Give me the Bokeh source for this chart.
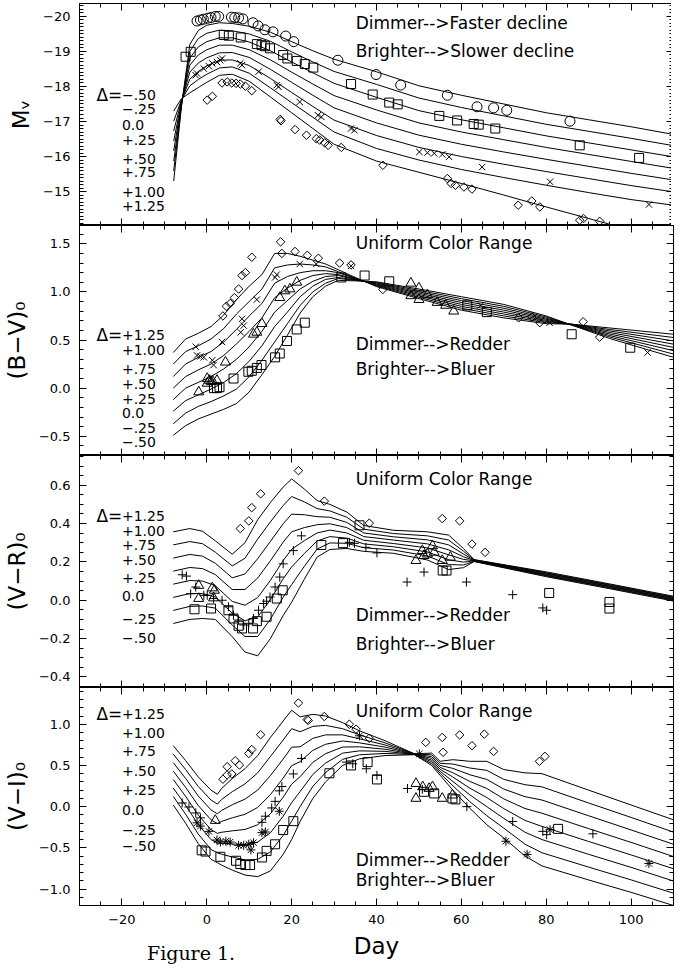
from bokeh.plotting import figure
from bokeh.models import Range1d, LinearAxis, FixedTicker, CustomJSTickFormatter, Label
from bokeh.layouts import column
from bokeh.embed import file_html
from bokeh.resources import INLINE
from bokeh.core.properties import value
import numpy as np

FONT = "DejaVu Sans"

# ---------------- Panel 1 : M_V templates ----------------
MV_DAYS = [-7.8, -6, -4, -2, 0, 3, 6, 10, 15, 20, 25, 30, 40, 50, 60, 70, 80, 90, 100, 110]
MV_LABELS = ["\u2212.50", "\u2212.25", "0.0", "+.25", "+.50", "+.75", "+1.00", "+1.25"]
MV_M050 = [-15.30, -17.40, -19.20, -19.60, -19.75, -19.82, -19.80, -19.72, -19.55, -19.28, -19.02, -18.78, -18.42, -18.02, -17.75, -17.50, -17.25, -17.05, -16.85, -16.63]
MV_M025 = [-15.59, -17.44, -19.00, -19.37, -19.52, -19.61, -19.59, -19.50, -19.29, -18.99, -18.70, -18.43, -18.06, -17.67, -17.40, -17.16, -16.92, -16.72, -16.52, -16.31]
MV_P000 = [-15.87, -17.47, -18.81, -19.13, -19.28, -19.39, -19.39, -19.27, -19.02, -18.70, -18.39, -18.09, -17.69, -17.31, -17.05, -16.82, -16.59, -16.39, -16.19, -15.99]
MV_P025 = [-16.16, -17.51, -18.61, -18.90, -19.05, -19.18, -19.18, -19.05, -18.76, -18.41, -18.07, -17.74, -17.33, -16.96, -16.70, -16.48, -16.26, -16.06, -15.86, -15.66]
MV_P050 = [-16.44, -17.54, -18.41, -18.67, -18.82, -18.96, -18.97, -18.83, -18.49, -18.12, -17.75, -17.39, -16.96, -16.61, -16.35, -16.13, -15.92, -15.72, -15.52, -15.33]
MV_P075 = [-16.73, -17.58, -18.21, -18.43, -18.59, -18.75, -18.76, -18.60, -18.23, -17.83, -17.43, -17.04, -16.60, -16.26, -16.00, -15.78, -15.57, -15.37, -15.17, -14.99]
MV_P100 = [-17.01, -17.61, -18.02, -18.20, -18.35, -18.53, -18.56, -18.38, -17.96, -17.54, -17.12, -16.70, -16.23, -15.90, -15.63, -15.40, -15.18, -14.97, -14.77, -14.61]
MV_P125 = [-17.30, -17.65, -17.82, -17.97, -18.12, -18.32, -18.35, -18.15, -17.70, -17.25, -16.80, -16.35, -15.87, -15.55, -15.23, -14.90, -14.56, -14.23, -13.90, -13.60]

MV_CIRC = [(-2.3, -19.87), (-1.5, -19.9), (-0.8, -19.92), (0.2, -19.95), (1.0, -19.97), (2.0, -20.0), (2.8, -20.0),
           (5.8, -19.98), (6.6, -19.97), (7.5, -19.96), (8.5, -19.93), (10.9, -19.82), (12.1, -19.73), (13.7, -19.62),
           (15.6, -19.56), (18.6, -19.44), (20.5, -19.28), (30.9, -18.75), (39.9, -18.34), (45.7, -18.04),
           (56.7, -17.75), (63.7, -17.42), (67.6, -17.39), (70.7, -17.32), (85.6, -17.01)]
MV_SQR = [(-5.0, -18.85), (-3.8, -18.99), (4.0, -19.47), (5.2, -19.45), (8.0, -19.4), (11.8, -19.21), (12.9, -19.18),
          (13.7, -19.15), (14.9, -19.09), (18.0, -18.9), (19.0, -18.8), (21.2, -18.73), (23.1, -18.64), (25.1, -18.54),
          (34.0, -18.07), (39.1, -17.77), (43.0, -17.54), (45.0, -17.49), (54.8, -17.16), (59.0, -17.03),
          (62.9, -16.93), (64.1, -16.91), (68.0, -16.8), (87.9, -16.32), (101.9, -15.96)]
MV_X = [(-2.6, -18.32), (-2.3, -18.37), (-0.7, -18.51), (0.5, -18.58), (1.3, -18.66), (2.4, -18.7), (3.2, -18.75),
        (3.6, -18.8), (7.9, -18.66), (8.3, -18.61), (12.2, -18.42), (16.5, -18.04), (16.9, -17.99), (21.9, -17.56),
        (26.2, -17.18), (27.0, -17.13), (34.0, -16.8), (34.8, -16.75), (50.1, -16.13), (52.0, -16.11),
        (53.6, -16.09), (55.5, -16.06), (57.1, -15.99), (64.9, -15.7), (80.9, -15.28), (104.2, -14.63)]
MV_DIAM = [(0.1, -17.61), (1.3, -17.72), (3.6, -18.1), (4.8, -18.13), (5.9, -18.1), (6.9, -18.09), (7.9, -18.07),
           (9.1, -18.01), (10.6, -17.88), (17.3, -17.06), (17.5, -17.02), (20.8, -16.77), (23.5, -16.61),
           (25.8, -16.51), (26.6, -16.47), (27.8, -16.39), (28.6, -16.32), (31.7, -16.26), (41.5, -15.75),
           (56.7, -15.37), (57.6, -15.23), (58.6, -15.18), (60.6, -15.13), (62.5, -15.07), (73.4, -14.61),
           (76.6, -14.73), (78.5, -14.56), (87.9, -14.18), (88.8, -14.23), (92.6, -14.15)]

# ---------------- Panel 2 : (B-V)0 templates (rows = days; columns = +1.25 ... -.50) ----------------
BV_DAYS = [-7.9, -5, -2, 1, 4, 7, 10, 13, 16, 19, 22, 25, 28, 31, 35, 40, 50, 60, 70, 80, 86, 95, 110]
BV_LABELS = ["+1.25", "+1.00", "+.75", "+.50", "+.25", "0.0", "\u2212.25", "\u2212.50"]
BV_ROWS = [
    [0.37, 0.25, 0.12, 0.00, -0.12, -0.24, -0.37, -0.49],
    [0.51, 0.38, 0.25, 0.12, 0.00, -0.13, -0.26, -0.39],
    [0.57, 0.44, 0.32, 0.19, 0.06, -0.07, -0.19, -0.32],
    [0.64, 0.51, 0.38, 0.25, 0.12, -0.01, -0.14, -0.27],
    [0.76, 0.62, 0.48, 0.34, 0.20, 0.06, -0.08, -0.22],
    [0.92, 0.77, 0.61, 0.46, 0.30, 0.15, -0.01, -0.16],
    [1.06, 0.90, 0.75, 0.59, 0.43, 0.28, 0.12, -0.04],
    [1.18, 1.03, 0.88, 0.73, 0.59, 0.44, 0.29, 0.14],
    [1.40, 1.25, 1.09, 0.94, 0.79, 0.64, 0.48, 0.33],
    [1.40, 1.28, 1.16, 1.04, 0.91, 0.79, 0.67, 0.55],
    [1.37, 1.29, 1.20, 1.12, 1.03, 0.95, 0.86, 0.78],
    [1.33, 1.28, 1.22, 1.17, 1.11, 1.06, 1.00, 0.95],
    [1.29, 1.26, 1.22, 1.19, 1.16, 1.13, 1.09, 1.06],
    [1.23, 1.21, 1.20, 1.18, 1.17, 1.15, 1.14, 1.12],
    [1.15, 1.145, 1.14, 1.135, 1.13, 1.125, 1.12, 1.115],
    [1.055, 1.062, 1.069, 1.076, 1.084, 1.091, 1.098, 1.105],
    [0.930, 0.944, 0.959, 0.973, 0.987, 1.001, 1.016, 1.030],
    [0.81, 0.83, 0.85, 0.87, 0.89, 0.91, 0.93, 0.95],
    [0.73, 0.75, 0.77, 0.79, 0.81, 0.83, 0.85, 0.87],
    [0.670, 0.681, 0.693, 0.704, 0.716, 0.727, 0.739, 0.750],
    [0.665, 0.664, 0.662, 0.661, 0.659, 0.658, 0.656, 0.655],
    [0.625, 0.609, 0.594, 0.578, 0.562, 0.546, 0.531, 0.515],
    [0.560, 0.526, 0.491, 0.457, 0.423, 0.389, 0.354, 0.320],
]
BV_DIAM = [(3.8, 0.75), (4.6, 0.85), (5.5, 0.88), (6.5, 0.94), (7.5, 1.03), (8.3, 1.17), (9.1, 1.2), (10.6, 1.36),
           (17.4, 1.52), (17.7, 1.40), (20.8, 1.42), (23.7, 1.38), (26.3, 1.35), (31.3, 1.30), (34.0, 1.28),
           (41.5, 1.025), (73.5, 0.73), (76.6, 0.74), (78.5, 0.68), (88.7, 0.69), (92.6, 0.53)]
BV_X = [(-2.6, 0.43), (-2.3, 0.34), (-1.5, 0.33), (-0.7, 0.32), (1.3, 0.29), (1.6, 0.24), (3.6, 0.48), (8.3, 0.72),
        (8.7, 0.65), (8.0, 0.58), (11.8, 0.92), (16.1, 1.15), (16.5, 1.18), (21.9, 1.29), (25.8, 1.29),
        (34.0, 1.27), (64.6, 0.86), (80.8, 0.68), (103.9, 0.37)]
BV_TRI = [(-1.9, -0.04), (0.1, 0.10), (0.6, 0.08), (1.0, 0.07), (1.4, 0.07), (0.1, 0.05), (2.4, 0.08), (4.4, 0.27),
          (11.0, 0.56), (11.8, 0.58), (13.0, 0.67), (17.2, 0.94), (18.4, 1.01), (19.6, 1.03), (21.2, 1.10),
          (48.1, 1.09), (48.1, 0.96), (50.0, 1.04), (50.0, 0.92), (52.0, 0.97), (54.3, 0.89), (56.3, 0.86),
          (58.2, 0.80)]
BV_SQR = [(1.7, 0.0), (2.4, 0.0), (3.0, 0.01), (6.3, 0.10), (9.8, 0.17), (10.6, 0.18), (11.8, 0.21), (12.9, 0.24),
          (16.1, 0.32), (17.2, 0.36), (18.9, 0.49), (21.2, 0.61), (23.1, 0.68), (31.7, 1.15), (37.2, 1.17),
          (43.0, 1.11), (61.4, 0.86), (66.0, 0.79), (86.0, 0.56), (99.8, 0.42)]

# ---------------- Panel 3 : (V-R)0 templates ----------------
VR_DAYS = [-7.9, -4, -1, 2, 6, 9, 12, 15, 18, 20, 23, 26, 29, 33, 37, 44, 52, 57, 60.5, 63, 80, 95, 110]
VR_LABELS = ["+1.25", "+1.00", "+.75", "+.50", "+.25", "0.0", "\u2212.25", "\u2212.50"]
VR_ROWS = [
    [0.357, 0.289, 0.220, 0.152, 0.084, 0.015, -0.053, -0.121],
    [0.374, 0.306, 0.239, 0.171, 0.103, 0.035, -0.032, -0.100],
    [0.360, 0.295, 0.230, 0.165, 0.100, 0.035, -0.030, -0.095],
    [0.310, 0.251, 0.193, 0.134, 0.076, 0.017, -0.041, -0.100],
    [0.240, 0.179, 0.117, 0.056, -0.006, -0.067, -0.129, -0.190],
    [0.300, 0.219, 0.137, 0.056, -0.026, -0.107, -0.189, -0.270],
    [0.420, 0.319, 0.217, 0.116, 0.014, -0.087, -0.189, -0.290],
    [0.510, 0.409, 0.307, 0.206, 0.104, 0.003, -0.099, -0.200],
    [0.590, 0.494, 0.399, 0.303, 0.207, 0.112, 0.016, -0.080],
    [0.633, 0.541, 0.449, 0.357, 0.266, 0.174, 0.082, -0.010],
    [0.580, 0.513, 0.446, 0.379, 0.311, 0.244, 0.177, 0.110],
    [0.520, 0.478, 0.436, 0.394, 0.351, 0.309, 0.267, 0.225],
    [0.500, 0.466, 0.433, 0.399, 0.366, 0.332, 0.299, 0.265],
    [0.460, 0.433, 0.406, 0.379, 0.351, 0.324, 0.297, 0.270],
    [0.390, 0.371, 0.351, 0.332, 0.313, 0.294, 0.274, 0.255],
    [0.365, 0.348, 0.331, 0.314, 0.296, 0.279, 0.262, 0.245],
    [0.357, 0.336, 0.315, 0.294, 0.273, 0.252, 0.231, 0.210],
    [0.340, 0.314, 0.289, 0.263, 0.237, 0.211, 0.186, 0.160],
    [0.270, 0.256, 0.241, 0.227, 0.213, 0.199, 0.184, 0.170],
    [0.212, 0.211, 0.209, 0.208, 0.206, 0.205, 0.203, 0.202],
    [0.148, 0.144, 0.141, 0.137, 0.134, 0.130, 0.127, 0.123],
    [0.085, 0.081, 0.078, 0.074, 0.071, 0.067, 0.064, 0.060],
    [0.021, 0.017, 0.014, 0.010, 0.007, 0.003, 0.000, -0.004],
]
VR_DIAM = [(7.9, 0.374), (9.9, 0.414), (10.6, 0.483), (12.7, 0.555), (21.6, 0.676), (27.7, 0.517), (38.3, 0.402),
           (55.5, 0.426), (59.6, 0.414), (62.5, 0.293), (65.6, 0.25)]
VR_PLUS = [(-5.8, 0.133), (-4.8, 0.126), (-3.8, 0.034), (-2.6, 0.069), (-0.7, 0.026), (0.1, 0.026), (1.6, 0.009),
           (3.6, 0.0), (5.1, -0.034), (6.3, -0.078), (7.5, -0.103), (8.7, -0.129), (9.9, -0.12), (11.0, -0.095),
           (12.2, -0.052), (13.4, -0.017), (14.1, -0.005), (14.9, 0.017), (16.1, 0.069), (17.2, 0.121),
           (18.0, 0.19), (20.4, 0.259), (22.3, 0.336), (33.6, 0.302), (34.8, 0.297), (37.5, 0.276), (40.1, 0.247),
           (47.2, 0.095), (51.2, 0.147), (61.2, 0.095), (72.1, 0.029), (79.2, -0.04), (80.1, -0.052)]
VR_TRI = [(-1.9, 0.077), (-1.9, 0.009), (1.3, 0.064), (1.8, 0.052), (1.6, 0.012), (49.3, 0.207), (50.8, 0.259),
          (51.2, 0.233), (52.0, 0.241), (53.2, 0.284), (53.6, 0.25), (55.5, 0.207), (57.4, 0.224)]
VR_SQR = [(-2.9, -0.047), (1.0, -0.043), (5.1, -0.052), (6.3, -0.095), (7.5, -0.133), (8.3, -0.147), (10.9, -0.147),
          (11.8, -0.109), (14.1, -0.086), (16.5, 0.009), (17.9, 0.052), (27.0, 0.288), (32.1, 0.298), (36.0, 0.391),
          (55.6, 0.155), (56.5, 0.155), (80.7, 0.038), (94.9, -0.009), (94.9, -0.043)]

# ---------------- Panel 4 : (V-I)0 templates ----------------
VI_DAYS = [-7.9, -5, -2, 1, 2.5, 3.5, 6, 9, 12, 15, 18, 20, 22, 25, 28, 32, 36, 42, 49, 53, 55, 58, 62, 66, 70,
           75, 79, 90, 100, 110]
VI_LABELS = ["+1.25", "+1.00", "+.75", "+.50", "+.25", "0.0", "\u2212.25", "\u2212.50"]
VI_ROWS = [
    [0.74, 0.637, 0.534, 0.431, 0.329, 0.226, 0.123, 0.02],
    [0.56, 0.451, 0.343, 0.234, 0.126, 0.017, -0.091, -0.20],
    [0.36, 0.244, 0.129, 0.013, -0.103, -0.219, -0.334, -0.45],
    [0.20, 0.08, -0.04, -0.16, -0.28, -0.40, -0.52, -0.64],
    [0.15, 0.031, -0.087, -0.206, -0.324, -0.443, -0.561, -0.68],
    [0.22, 0.087, -0.046, -0.179, -0.311, -0.444, -0.577, -0.71],
    [0.34, 0.181, 0.023, -0.136, -0.294, -0.453, -0.611, -0.77],
    [0.46, 0.276, 0.091, -0.093, -0.277, -0.461, -0.646, -0.83],
    [0.62, 0.41, 0.20, -0.01, -0.22, -0.43, -0.64, -0.85],
    [0.84, 0.609, 0.377, 0.146, -0.086, -0.317, -0.549, -0.78],
    [1.04, 0.809, 0.577, 0.346, 0.114, -0.117, -0.349, -0.58],
    [1.17, 0.946, 0.721, 0.497, 0.273, 0.049, -0.176, -0.40],
    [1.09, 0.909, 0.727, 0.546, 0.364, 0.183, 0.001, -0.18],
    [1.12, 0.974, 0.829, 0.683, 0.537, 0.391, 0.246, 0.10],
    [1.10, 0.986, 0.871, 0.757, 0.643, 0.529, 0.414, 0.30],
    [1.02, 0.946, 0.871, 0.797, 0.723, 0.649, 0.574, 0.50],
    [0.92, 0.871, 0.823, 0.774, 0.726, 0.677, 0.629, 0.58],
    [0.80, 0.774, 0.749, 0.723, 0.697, 0.671, 0.646, 0.62],
    [0.64, 0.639, 0.637, 0.636, 0.634, 0.633, 0.631, 0.63],
    [0.65, 0.629, 0.607, 0.586, 0.564, 0.543, 0.521, 0.50],
    [0.55, 0.526, 0.501, 0.477, 0.453, 0.429, 0.404, 0.38],
    [0.57, 0.517, 0.464, 0.411, 0.359, 0.306, 0.253, 0.20],
    [0.55, 0.469, 0.387, 0.306, 0.224, 0.143, 0.061, -0.02],
    [0.55, 0.44, 0.33, 0.22, 0.11, 0.00, -0.11, -0.22],
    [0.45, 0.331, 0.213, 0.094, -0.024, -0.143, -0.261, -0.38],
    [0.41, 0.266, 0.121, -0.023, -0.167, -0.311, -0.456, -0.60],
    [0.40, 0.24, 0.08, -0.08, -0.24, -0.40, -0.56, -0.72],
    [0.20, 0.044, -0.111, -0.267, -0.423, -0.579, -0.734, -0.89],
    [0.02, -0.131, -0.283, -0.434, -0.586, -0.737, -0.889, -1.04],
    [-0.16, -0.309, -0.457, -0.606, -0.754, -0.903, -1.051, -1.20],
]
VI_DIAM = [(3.8, 0.333), (4.8, 0.385), (5.9, 0.397), (4.8, 0.485), (6.7, 0.557), (7.7, 0.505), (9.9, 0.645),
           (10.6, 0.693), (12.7, 0.873), (21.6, 1.258), (23.7, 1.058), (23.9, 1.046), (27.7, 1.094), (33.6, 1.0),
           (35.2, 0.94), (38.3, 0.83), (51.6, 0.78), (55.5, 0.84), (55.7, 0.66), (59.6, 0.87), (62.5, 0.74),
           (65.4, 0.88), (67.6, 0.67), (78.4, 0.55), (79.7, 0.61)]
VI_PLUS = [(-5.8, 0.044), (-4.2, -0.004), (-2.6, -0.076), (-1.5, -0.136), (13.0, -0.19), (13.8, -0.116),
           (15.3, -0.016), (16.1, 0.064), (17.1, 0.192), (17.7, 0.244), (20.4, 0.397), (22.3, 0.585), (32.9, 0.54),
           (34.4, 0.52), (37.6, 0.46), (40.1, 0.38), (47.3, 0.22), (50.8, 0.21), (61.3, 0.0), (72.1, -0.18),
           (79.2, -0.3), (80.1, -0.34), (91.0, -0.33)]
VI_AST = [(-2.3, -0.196), (-1.5, -0.236), (0.5, -0.3), (2.4, -0.405), (3.2, -0.43), (4.5, -0.42), (5.5, -0.43),
          (7.5, -0.47), (8.7, -0.47), (9.9, -0.457), (10.4, -0.525), (11.0, -0.437), (13.0, -0.316),
          (13.8, -0.308), (17.1, -0.056), (36.0, 0.86), (50.1, 0.64), (70.5, -0.42), (75.5, -0.58), (80.9, -0.28),
          (104.2, -0.69)]
VI_TRI = [(2.0, -0.168), (49.3, 0.28), (49.3, 0.10), (50.9, 0.24), (52.4, 0.22), (53.2, 0.24), (55.5, 0.10),
          (57.9, 0.14)]
VI_SQR = [(-1.2, -0.53), (-0.3, -0.545), (3.2, -0.609), (6.9, -0.657), (7.9, -0.697), (9.1, -0.709), (10.2, -0.709),
          (13.0, -0.617), (14.1, -0.537), (16.1, -0.457), (18.0, -0.284), (20.4, -0.176), (28.9, 0.405),
          (34.0, 0.50), (37.9, 0.54), (40.1, 0.33), (51.2, 0.18), (53.6, 0.16), (57.9, 0.10), (58.6, 0.088),
          (82.8, -0.27)]

X_MAJOR = [-20, 0, 20, 40, 60, 80, 100]

xr = Range1d(-30, 110)
FW = 594


def fmt(d):
    return CustomJSTickFormatter(code="return tick.toFixed(%d).replace('-', '\u2212');" % d)


def blank():
    return CustomJSTickFormatter(code="return '';")


def style_axis(ax, show):
    ax.major_tick_in = 7
    ax.major_tick_out = 0
    ax.minor_tick_in = 4
    ax.minor_tick_out = 0
    ax.axis_line_color = "black"
    ax.major_tick_line_color = "black"
    ax.minor_tick_line_color = "black"
    if show:
        ax.major_label_text_font = FONT
        ax.major_label_text_font_size = "13px"
        ax.major_label_text_color = "black"
        ax.major_label_standoff = 9
        ax.axis_label_text_font = FONT
        ax.axis_label_text_font_size = "23px"
        ax.axis_label_text_font_style = "normal"
        ax.axis_label_text_color = "black"
        ax.axis_label_standoff = 6
    else:
        ax.major_label_text_color = None
        ax.major_label_text_font_size = "0px"
        ax.major_label_standoff = 0
        ax.axis_label = None


def panel(yr, fh, ymajor, ystep, ydig, ylabel, last=False, top=0):
    p = figure(frame_width=FW, frame_height=fh, x_range=xr, y_range=yr, output_backend="svg",
               toolbar_location=None, x_axis_location=None, y_axis_location=None,
               min_border_left=72, min_border_right=3, min_border_top=top, min_border_bottom=0)
    p.outline_line_color = "black"
    p.outline_line_width = 1
    p.background_fill_color = "white"
    p.xgrid.visible = False
    p.ygrid.visible = False
    lo, hi = min(yr.start, yr.end), max(yr.start, yr.end)
    yminor = list(np.round(np.arange(np.ceil(lo / ystep) * ystep, hi, ystep), 4))
    yt = FixedTicker(ticks=ymajor, minor_ticks=yminor)
    xt = FixedTicker(ticks=X_MAJOR, minor_ticks=list(range(-30, 111, 5)))
    left = LinearAxis(ticker=yt, formatter=fmt(ydig), axis_label=ylabel)
    right = LinearAxis(ticker=yt, formatter=blank())
    above = LinearAxis(ticker=xt, formatter=blank())
    below = LinearAxis(ticker=xt, formatter=fmt(0) if last else blank(), axis_label="Day" if last else None)
    style_axis(left, True)
    style_axis(right, False)
    style_axis(above, False)
    style_axis(below, last)
    p.add_layout(left, "left")
    p.add_layout(right, "right")
    p.add_layout(above, "above")
    p.add_layout(below, "below")
    return p


def curves(p, days, cols):
    p.multi_line(xs=[days] * len(cols), ys=[list(c) for c in cols], line_color="black", line_width=1)


def pts(p, data, marker, size, angle=0.0):
    xs = [d[0] for d in data]
    ys = [d[1] for d in data]
    p.scatter(xs, ys, marker=marker, size=size, angle=angle, fill_color=None, line_color="black", line_width=1)


def texts(p, xs, ys, tx, size="17px"):
    p.text(x=xs, y=ys, text=tx, text_font=value(FONT), text_font_size=size, text_color="black",
           text_baseline="middle", text_align="left")


def delta_block(p, ys, labels):
    texts(p, [-26.0], [ys[0]], ["\u0394="], "17px")
    texts(p, [-20.0] * len(labels), ys, labels, "14px")


# Panel 1
p1 = panel(Range1d(-14.03, -20.37), 222, [-20, -19, -18, -17, -16, -15], 0.1, 0, "M\u1d65", top=3)
curves(p1, MV_DAYS, [MV_M050, MV_M025, MV_P000, MV_P025, MV_P050, MV_P075, MV_P100, MV_P125])
pts(p1, MV_CIRC, "circle", 10)
pts(p1, MV_SQR, "square", 9)
pts(p1, MV_X, "x", 9)
pts(p1, MV_DIAM, "square", 6, np.pi / 4)
texts(p1, [35.1, 35.1], [-19.8, -19.0], ["Dimmer-->Faster decline", "Brighter-->Slower decline"])
delta_block(p1, [-17.77, -17.37, -16.91, -16.46, -15.94, -15.57, -15.0, -14.6], MV_LABELS)

# Panel 2
p2 = panel(Range1d(-0.70, 1.69), 230, [-0.5, 0.0, 0.5, 1.0, 1.5], 0.1, 1, "(B\u2212V)\u2080")
curves(p2, BV_DAYS, list(zip(*BV_ROWS)))
pts(p2, BV_DIAM, "square", 6, np.pi / 4)
pts(p2, BV_X, "x", 9)
pts(p2, BV_TRI, "triangle", 10)
pts(p2, BV_SQR, "square", 9)
texts(p2, [35.1, 35.1, 35.1], [1.507, 0.454, 0.195], ["Uniform Color Range", "Dimmer-->Redder", "Brighter-->Bluer"])
delta_block(p2, [0.547, 0.392, 0.195, 0.04, -0.115, -0.26, -0.415, -0.56], BV_LABELS)

# Panel 3
p3 = panel(Range1d(-0.455, 0.755), 232, [-0.4, -0.2, 0.0, 0.2, 0.4, 0.6], 0.05, 1, "(V\u2212R)\u2080")
curves(p3, VR_DAYS, list(zip(*VR_ROWS)))
pts(p3, VR_DIAM, "square", 6, np.pi / 4)
pts(p3, VR_PLUS, "cross", 9)
pts(p3, VR_TRI, "triangle", 10)
pts(p3, VR_SQR, "square", 9)
texts(p3, [35.1, 35.1, 35.1], [0.631, -0.078, -0.228], ["Uniform Color Range", "Dimmer-->Redder", "Brighter-->Bluer"])
delta_block(p3, [0.44, 0.362, 0.29, 0.212, 0.114, 0.021, -0.098, -0.197], VR_LABELS)

# Panel 4
p4 = panel(Range1d(-1.2, 1.446), 218, [-1.0, -0.5, 0.0, 0.5, 1.0], 0.1, 1, "(V\u2212I)\u2080", last=True)
curves(p4, VI_DAYS, list(zip(*VI_ROWS)))
pts(p4, VI_DIAM, "square", 6, np.pi / 4)
pts(p4, VI_PLUS, "cross", 9)
pts(p4, VI_AST, "asterisk", 9)
pts(p4, VI_TRI, "triangle", 10)
pts(p4, VI_SQR, "square", 9)
texts(p4, [35.1, 35.1, 35.1], [1.157, -0.645, -0.886], ["Uniform Color Range", "Dimmer-->Redder", "Brighter-->Bluer"])
delta_block(p4, [1.121, 0.893, 0.677, 0.436, 0.196, -0.044, -0.284, -0.477], VI_LABELS)
# caption placed in the bottom side panel so that it is drawn outside the plotting frame
p4.add_layout(Label(x=-14.1, y=-1.637, text="Figure 1.", text_font="DejaVu Serif", text_font_size="19px",
                    text_color="black", text_baseline="top"), "below")

layout = column(p1, p2, p3, p4)
open("out.html", "w").write(file_html(layout, INLINE))
